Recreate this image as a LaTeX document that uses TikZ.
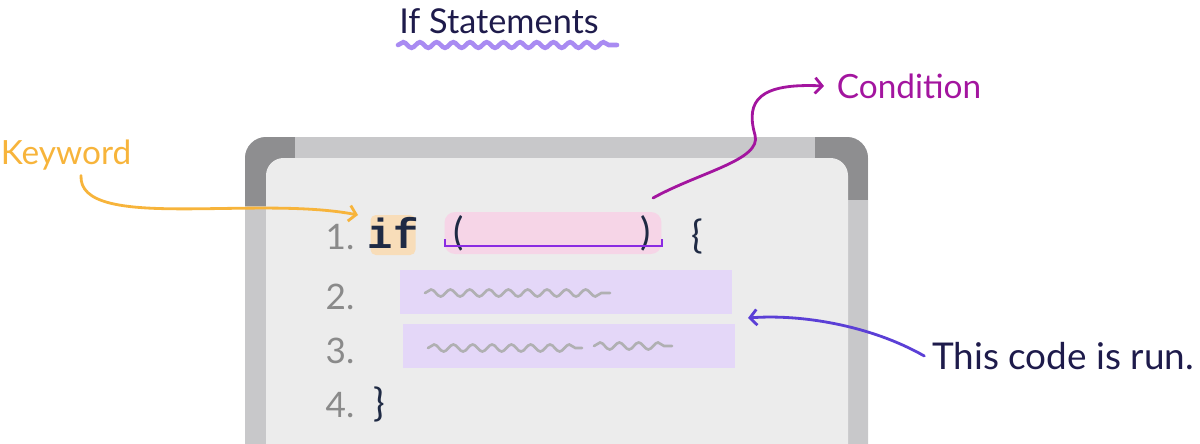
\documentclass[tikz,border=0pt]{standalone}
\usepackage{fontspec}
\setmainfont{Lato}
\setmonofont{Liberation Mono}
\usetikzlibrary{arrows.meta,decorations.pathmorphing}
\definecolor{ink}{HTML}{1E1B4B}
\definecolor{codeink}{HTML}{1F2A44}
\definecolor{bandgray}{HTML}{C8C8CA}
\definecolor{cornergray}{HTML}{8E8E90}
\definecolor{boardgray}{HTML}{ECECEC}
\definecolor{kworange}{HTML}{F7B43B}
\definecolor{peach}{HTML}{F8DDB9}
\definecolor{pinkhl}{HTML}{F6D5E7}
\definecolor{lavender}{HTML}{E4D7F8}
\definecolor{wavepurple}{HTML}{A98BF2}
\definecolor{bracketpurple}{HTML}{8A2BE2}
\definecolor{condmagenta}{HTML}{A3159F}
\definecolor{runblue}{HTML}{5B3FD6}
\definecolor{numgray}{HTML}{8A8A8A}
\definecolor{squiggray}{HTML}{B0B0B2}

\begin{document}
\begin{tikzpicture}[x=0.02cm,y=-0.02cm,
  >={Straight Barb[length=4pt,width=9pt]},
  label/.style={inner sep=0pt,font=\fontsize{19}{22}\selectfont},
  num/.style={inner sep=0pt,text=numgray,font=\fontsize{20}{22}\selectfont},
  code/.style={inner sep=0pt,text=codeink,font=\fontsize{22}{24}\selectfont},
  hlbox/.style={inner sep=0pt,draw=none},
  squig/.style={squiggray,line width=1.5pt,line cap=round,decorate,
    decoration={snake,amplitude=2pt,segment length=11pt}},
  note/.style={->,line width=1.6pt,line cap=round}]
\useasboundingbox (0,0) rectangle (1200,443);
\clip (0,0) rectangle (1200,443);

\fill[bandgray,rounded corners=12pt] (245,137) rectangle (868,480);
\begin{scope}
\clip[rounded corners=12pt] (245,137) rectangle (868,480);
\fill[cornergray] (245,137) rectangle (295,206);
\fill[cornergray] (815,137) rectangle (868,200);
\end{scope}
\fill[boardgray,rounded corners=10pt] (266,158) rectangle (848,480);

\node[label,text=ink,font=\fontsize{19.5}{22}\selectfont] (title) at (499,21) {If Statements};
\draw[wavepurple,line width=2.6pt,line cap=round,decorate,
  decoration={snake,amplitude=1.6pt,segment length=9.5pt}] (398,45) -- (617,45);

\node[hlbox,fill=peach,rounded corners=3pt,minimum width=0.9cm,minimum height=0.8cm] (ifbox) at (393,235) {};
\node[hlbox,fill=pinkhl,rounded corners=6pt,minimum width=4.34cm,minimum height=0.84cm] (condbox) at (553,233) {};
\node[hlbox,fill=lavender,minimum width=6.64cm,minimum height=0.88cm] (body2) at (566,292) {};
\node[hlbox,fill=lavender,minimum width=6.64cm,minimum height=0.88cm] (body3) at (569,346) {};

\node[num] (n1) at (340,237) {1.};
\node[num] (n2) at (340,297) {2.};
\node[num] (n3) at (340,351) {3.};
\node[num] (n4) at (340,405) {4.};

\node[code,font=\ttfamily\bfseries\fontsize{24}{26}\selectfont] (ifkw) at (393,233) {if};
\node[code] (lpar) at (459,233) {(};
\node[code] (rpar) at (646,233) {)};
\node[code] (lbrace) at (697,236) {\{};
\node[code] (rbrace) at (379,404) {\}};

\draw[bracketpurple,line width=1.1pt] (445,239) -- (445,246) -- (662,246) -- (662,239);

\draw[squig] (425,293) -- (610,293);
\draw[squig] (428,348) -- (582,348);
\draw[squig] (594,346) -- (672,346);

\node[label,text=kworange] (keyword) at (66,155) {Keyword};
\node[label,text=condmagenta] (condition) at (909,86) {Condition};
\node[label,text=ink,font=\fontsize{21}{24}\selectfont] (runnote) at (1063,356) {This code is run.};

\coordinate (kwtip) at (358,215);
\coordinate (condstart) at (653,198);
\coordinate (runtip) at (748,318);

\draw[note,kworange] ([xshift=0.3cm,yshift=-0.1cm]keyword.south) .. controls (78,232) and (255,195) .. (kwtip);
\draw[note,condmagenta] (condstart) .. controls (700,172) and (762,160) .. (755,135)
  .. controls (745,100) and (760,83) .. ([xshift=-0.25cm]condition.west);
\draw[note,runblue] ([xshift=-0.15cm]runnote.west) .. controls (870,325) and (800,314) .. (runtip);
\end{tikzpicture}
\end{document}
